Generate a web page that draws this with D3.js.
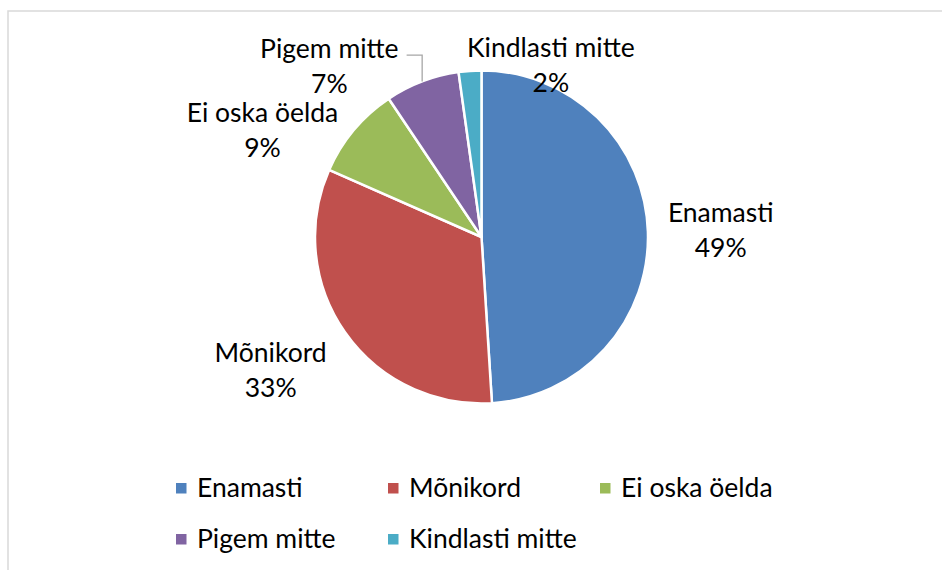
<!DOCTYPE html>
<html>
<head>
<meta charset="utf-8">
<script src="https://cdn.jsdelivr.net/npm/d3@7"></script>
<style>
  body { margin: 0; background: #fff; }
  text { font-family: Lato, "Open Sans", sans-serif; fill: #000; }
</style>
</head>
<body>
<script>
// Values (share of answers, %)
const categories = ['Enamasti', 'Mõnikord', 'Ei oska öelda', 'Pigem mitte', 'Kindlasti mitte'];
const values = [49, 32.6, 9, 7.2, 2.2];
const colors = ['#4F81BD', '#C0504D', '#9BBB59', '#8064A2', '#4BACC6'];

// hand tuned nudges of the data labels (Excel "best fit" moves the small ones around)
const labelNudge = [[0, 0], [-12, 6], [-18, 35], [-61, 36], [88, 49]];

const width = 942,
    height = 570,
    radius = 166.5,
    cx = 481.5,
    cy = 237;

const data = categories.map((name, i) => ({ name, value: values[i], color: colors[i] }));
const total = d3.sum(values);

const svg = d3.select('body').append('svg')
    .attr('width', width)
    .attr('height', height);

// chart frame (cut off at the right and bottom in the original)
svg.append('rect')
    .attr('x', 8)
    .attr('y', 11)
    .attr('width', 960)
    .attr('height', 600)
    .attr('fill', 'none')
    .attr('stroke', '#d9d9d9')
    .attr('stroke-width', 1.5);

const g = svg.append('g')
    .attr('transform', `translate(${cx}, ${cy})`);

const pie = d3.pie()
    .value(d => d.value)
    .sort(null);

const arc = d3.arc()
    .innerRadius(0)
    .outerRadius(radius);

const arcs = pie(data);

/* ------- SLICES ------- */
g.selectAll('path.slice')
    .data(arcs)
    .enter()
    .append('path')
    .attr('class', 'slice')
    .attr('d', arc)
    .attr('fill', d => d.data.color)
    .attr('stroke', '#fff')
    .attr('stroke-width', 2.5)
    .attr('stroke-linejoin', 'round');

/* ------- LABELS ------- */
const fontSize = 26.5,
    lineH = 35;

const labels = g.selectAll('g.label')
    .data(arcs)
    .enter()
    .append('g')
    .attr('class', 'label');

labels.each(function(d, i) {
    const sel = d3.select(this);
    const t1 = sel.append('text')
        .attr('text-anchor', 'middle')
        .style('font-size', fontSize + 'px')
        .text(d.data.name);
    sel.append('text')
        .attr('text-anchor', 'middle')
        .attr('y', lineH)
        .style('font-size', fontSize + 'px')
        .text(Math.round(d.data.value / total * 100) + '%');

    const w = t1.node().getComputedTextLength(),
        h = 70;
    const a = midAngle(d);
    const ax = Math.sin(a) * (radius + 20),
        ay = -Math.cos(a) * (radius + 20);
    const bx = ax + w / 2 * Math.sin(a) + labelNudge[i][0],
        by = ay - h / 2 * Math.cos(a) + labelNudge[i][1];
    d.box = { x: bx, y: by, w };
    sel.attr('transform', `translate(${bx}, ${by - 8})`);
});

/* ------- LEADER LINE (Pigem mitte) ------- */
const lead = arcs[3];
const la = midAngle(lead);
const p0 = [Math.sin(la) * radius, -Math.cos(la) * radius];
const lx = lead.box.x + lead.box.w / 2 + 8;
const ly = lead.box.y - 11;
g.append('polyline')
    .attr('points', [p0, [p0[0], ly], [lx, ly]].map(p => p.join(',')).join(' '))
    .attr('fill', 'none')
    .attr('stroke', '#a6a6a6')
    .attr('stroke-width', 1.3);

/* ------- LEGEND ------- */
const legendX = d3.scalePoint().domain([0, 1, 2]).range([176, 600]);
const legendY = d3.scalePoint().domain([0, 1]).range([497, 548]);

const legend = svg.append('g')
    .selectAll('g')
    .data(data)
    .enter()
    .append('g')
    .attr('transform', (d, i) => `translate(${legendX(i % 3)}, ${legendY(Math.floor(i / 3))})`);

legend.append('rect')
    .attr('x', 0)
    .attr('y', -14)
    .attr('width', 10.5)
    .attr('height', 10.5)
    .attr('fill', d => d.color);

legend.append('text')
    .attr('x', 21)
    .attr('y', 0)
    .style('font-size', fontSize + 'px')
    .text(d => d.name);

function midAngle(d) {
    return d.startAngle + (d.endAngle - d.startAngle) / 2;
}
</script>
</body>
</html>
